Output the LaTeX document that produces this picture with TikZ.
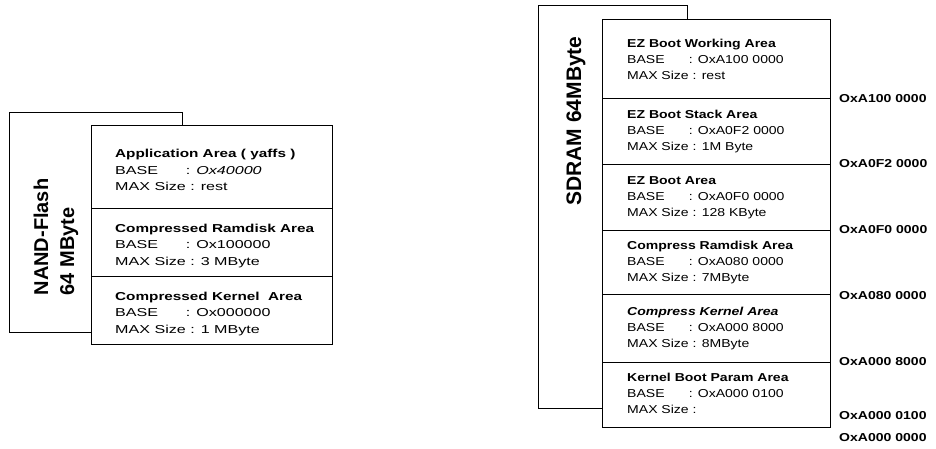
\documentclass[tikz,border=0pt]{standalone}
\usepackage{fontspec}
\setmainfont{Liberation Sans}
\newfontfamily\memfont[FakeStretch=1.22]{Liberation Sans}
\newfontfamily\memwidefont[FakeStretch=1.4]{Liberation Sans}
\newfontfamily\memtitlefont[FakeStretch=1.33]{Liberation Sans}
\usetikzlibrary{positioning}
\newcommand{\basekey}{\rlap{BASE}\phantom{MAX Size}}
\newcommand{\areatitle}[1]{{\memtitlefont\bfseries #1}}

\begin{document}
\begin{tikzpicture}[
    x=1pt, y=-1pt,
    outer/.style={rectangle, draw, line width=1.1pt, fill=white, anchor=north west, inner sep=0pt},
    area/.style={rectangle, draw, line width=1.1pt, fill=white, anchor=north west, inner sep=0pt},
    info/.style={anchor=west, align=left, inner sep=0pt, font=\memfont\fontsize{11.5}{16}\selectfont},
    wideinfo/.style={anchor=west, align=left, inner sep=0pt, font=\memwidefont\fontsize{11.5}{16.5}\selectfont},
    vlabel/.style={rotate=90, align=left, inner sep=0pt, font=\bfseries\fontsize{20}{26}\selectfont},
    addr/.style={anchor=west, inner sep=0pt, font=\memfont\bfseries\fontsize{11.5}{14}\selectfont}
]
    \useasboundingbox (0,0) rectangle (936,449);

    % NAND flash map
    \node[outer, minimum width=173pt, minimum height=220pt] (nandback) at (9,112) {};
    \node[vlabel] (nandlabel) at (56,237) {NAND-Flash\\64 MByte};

    \node[area, minimum width=241pt, minimum height=83pt] (app) at (91,125) {};
    \node[area, minimum width=241pt, minimum height=68pt] (ramdisk) at (91,208) {};
    \node[area, minimum width=241pt, minimum height=68pt] (kernel) at (91,276) {};

    \node[wideinfo] (apptext) at ([xshift=24pt, yshift=-3pt]app.west)
        {\areatitle{Application Area ( yaffs )}\\ \basekey : \textit{Ox40000}\\ MAX Size : rest};
    \node[wideinfo] (ramdisktext) at ([xshift=24pt, yshift=-3pt]ramdisk.west)
        {\areatitle{Compressed Ramdisk Area}\\ \basekey : Ox100000\\ MAX Size : 3 MByte};
    \node[wideinfo] (kerneltext) at ([xshift=24pt, yshift=-3pt]kernel.west)
        {\areatitle{Compressed Kernel\ \ Area}\\ \basekey : Ox000000\\ MAX Size : 1 MByte};

    % SDRAM map
    \node[outer, minimum width=149pt, minimum height=403pt] (sdramback) at (538,5) {};
    \node[vlabel, font=\bfseries\fontsize{21}{26}\selectfont] (sdramlabel) at (576,121) {SDRAM 64MByte};

    \node[area, minimum width=228pt, minimum height=79pt] (work) at (602,19) {};
    \node[area, minimum width=228pt, minimum height=66pt] (stack) at (602,98) {};
    \node[area, minimum width=228pt, minimum height=66pt] (boot) at (602,164) {};
    \node[area, minimum width=228pt, minimum height=64pt] (cramdisk) at (602,230) {};
    \node[area, minimum width=228pt, minimum height=68pt] (ckernel) at (602,294) {};
    \node[area, minimum width=228pt, minimum height=65pt] (param) at (602,362) {};

    \node[info] (worktext) at ([xshift=25pt]work.west)
        {\textbf{EZ Boot Working Area}\\ \basekey : OxA100 0000\\ MAX Size : rest};
    \node[info] (stacktext) at ([xshift=25pt]stack.west)
        {\textbf{EZ Boot Stack Area}\\ \basekey : OxA0F2 0000\\ MAX Size : 1M Byte};
    \node[info] (boottext) at ([xshift=25pt]boot.west)
        {\textbf{EZ Boot Area}\\ \basekey : OxA0F0 0000\\ MAX Size : 128 KByte};
    \node[info] (cramdisktext) at ([xshift=25pt]cramdisk.west)
        {\textbf{Compress Ramdisk Area}\\ \basekey : OxA080 0000\\ MAX Size : 7MByte};
    \node[info] (ckerneltext) at ([xshift=25pt]ckernel.west)
        {\textbf{\textit{Compress Kernel Area}}\\ \basekey : OxA000 8000\\ MAX Size : 8MByte};
    \node[info] (paramtext) at ([xshift=25pt, yshift=2pt]param.west)
        {\textbf{Kernel Boot Param Area}\\ \basekey : OxA000 0100\\ MAX Size :};

    % addresses
    \node[addr] (a100) at (839,99) {OxA100 0000};
    \node[addr] (a0f2) at (839,164) {OxA0F2 0000};
    \node[addr] (a0f0) at (839,230) {OxA0F0 0000};
    \node[addr] (a080) at (839,296) {OxA080 0000};
    \node[addr] (a0008000) at (839,362) {OxA000 8000};
    \node[addr] (a0000100) at (839,416) {OxA000 0100};
    \node[addr] (a0000000) at (839,438) {OxA000 0000};
\end{tikzpicture}
\end{document}
